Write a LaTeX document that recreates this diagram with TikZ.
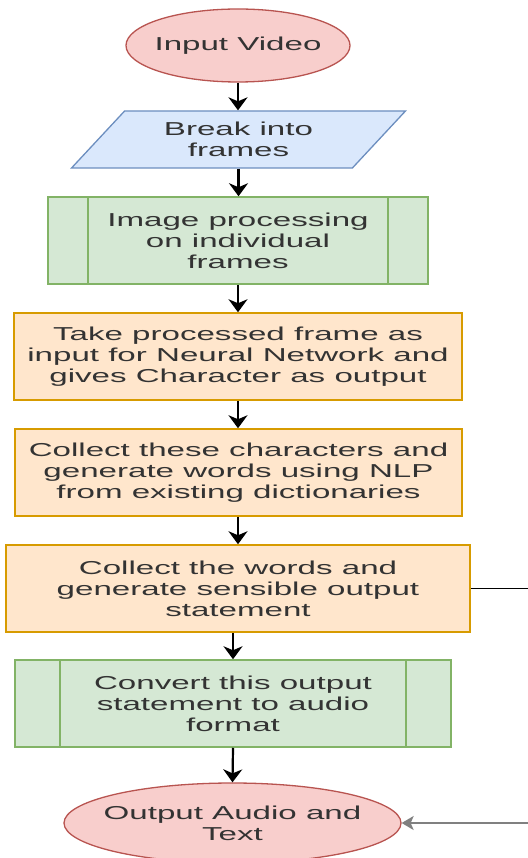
\documentclass[tikz,border=0pt]{standalone}
\usepackage{fontspec}
\newfontfamily\flowfont[FakeStretch=1.77]{Liberation Sans}
\usetikzlibrary{shapes.geometric,arrows.meta}
\definecolor{redfill}{HTML}{F8CECC}
\definecolor{redline}{HTML}{B85450}
\definecolor{bluefill}{HTML}{DAE8FC}
\definecolor{blueline}{HTML}{6C8EBF}
\definecolor{greenfill}{HTML}{D5E8D4}
\definecolor{greenline}{HTML}{82B366}
\definecolor{orangefill}{HTML}{FFE6CC}
\definecolor{orangeline}{HTML}{D79B00}

\begin{document}
\begin{tikzpicture}[x=1pt,y=-1pt,font=\flowfont\fontsize{18.7}{21}\selectfont,text=black!80,
    term/.style={ellipse,draw=redline,fill=redfill,line width=1.3pt,inner sep=0pt},
    io/.style={trapezium,trapezium left angle=45,trapezium right angle=135,trapezium stretches=true,
        draw=blueline,fill=bluefill,line width=1.3pt,inner sep=0pt,align=center},
    proc/.style={rectangle,draw=orangeline,fill=orangefill,line width=1.5pt,inner sep=0pt,
        align=center,minimum height=87pt},
    sub/.style={rectangle,draw=greenline,fill=greenfill,line width=1.5pt,inner sep=0pt,
        align=center,minimum height=87pt,
        path picture={\draw[greenline,line width=1.5pt]
            ([xshift=#1]path picture bounding box.north west) -- ([xshift=#1]path picture bounding box.south west)
            ([xshift=-#1]path picture bounding box.north east) -- ([xshift=-#1]path picture bounding box.south east);}},
    flow/.style={-{Stealth[length=13pt,width=19pt,inset=4pt]},line width=2.2pt},
    backflow/.style={-{Stealth[length=12pt,width=14pt,inset=3pt]},line width=1.6pt,draw=black!50}]
    \useasboundingbox (0,0) rectangle (527,858);
    \node[term,minimum width=224pt,minimum height=73pt,label={center:Input Video}] (invid) at (238,45.5) {};
    \node[io,minimum width=335pt,minimum height=57pt] (frames) at (238.5,139.5) {Break into\\frames};
    \node[sub=40pt,minimum width=380pt] (imgproc) at (238,240.5) {Image processing\\on individual\\frames};
    \node[proc,minimum width=448pt] (neural) at (238,356.5) {Take processed frame as\\input for Neural Network and\\gives Character as output};
    \node[proc,minimum width=447pt] (nlp) at (238.5,472.5) {Collect these characters and\\generate words using NLP\\from existing dictionaries};
    \node[proc,minimum width=464pt] (sentence) at (238,588.5) {Collect the words and\\generate sensible output\\statement};
    \node[sub=45pt,minimum width=436pt] (audio) at (233,703.5) {Convert this output\\statement to audio\\format};
    \node[term,minimum width=337pt,minimum height=80pt,label={[align=center]center:Output Audio and\\Text}] (result) at (232.5,823) {};
    \coordinate (rim) at (560,700);
    \draw[flow] (invid.south) -- (invid.south |- frames.north);
    \draw[flow] (frames.south) -- (frames.south |- imgproc.north);
    \draw[flow] (imgproc.south) -- (neural.north);
    \draw[flow] (neural.south) -- (neural.south |- nlp.north);
    \draw[flow] (nlp.south -| neural) -- (sentence.north);
    \draw[flow] (sentence.south -| audio) -- (audio.north);
    \draw[flow] (audio.south) -- (result.north);
    \draw[line width=1pt] (sentence.east) -| (rim);
    \draw[backflow] (rim) |- (result.east);
\end{tikzpicture}
\end{document}
